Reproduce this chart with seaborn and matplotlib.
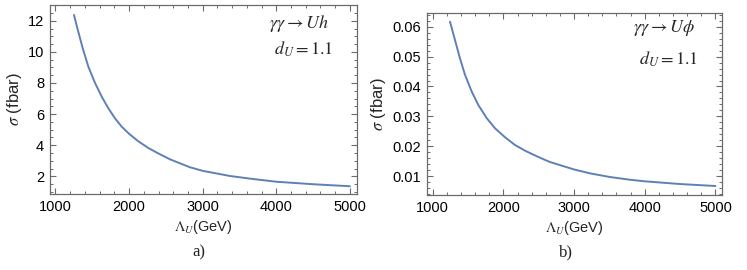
import pandas as pd
import seaborn as sns
import matplotlib.pyplot as plt
from matplotlib.ticker import MultipleLocator

# values
lam_a = [1251, 1310, 1370, 1446, 1537, 1628, 1718, 1808, 1899, 2003, 2125, 2261,
         2397, 2556, 2827, 3000, 3370, 3642, 4000, 4500, 5000]
sigma_uh = [12.37, 11.29, 10.23, 9.05, 8.0, 7.12, 6.37, 5.73, 5.19, 4.72, 4.25, 3.82,
            3.47, 3.09, 2.58, 2.35, 2.02, 1.85, 1.65, 1.49, 1.36]

lam_b = [1245, 1315, 1386, 1457, 1552, 1645, 1764, 1881, 2023, 2164, 2306, 2447,
         2579, 2659, 3000, 3225, 3508, 3791, 4000, 4500, 5000]
sigma_uphi = [0.0617, 0.0556, 0.0494, 0.0439, 0.0383, 0.0338, 0.0294, 0.0260, 0.0230,
              0.0204, 0.0185, 0.0169, 0.0155, 0.0147, 0.0122, 0.0109, 0.00967,
              0.00876, 0.00823, 0.00732, 0.00666]

sns.set_style("ticks")
plt.rcParams['font.family'] = ['Liberation Sans', 'DejaVu Sans']
plt.rcParams['mathtext.fontset'] = 'stix'

line_col = '#5E81B5'
frame_col = '#6b6b6b'

fig = plt.figure(figsize=(7.47, 2.70), dpi=100)
ax1 = fig.add_axes([0.0665, 0.2804, 0.4114, 0.701])
ax2 = fig.add_axes([0.5712, 0.2778, 0.3953, 0.675])

df_a = pd.DataFrame({'lam': lam_a, 'sigma': sigma_uh})
df_b = pd.DataFrame({'lam': lam_b, 'sigma': sigma_uphi})

sns.lineplot(data=df_a, x='lam', y='sigma', ax=ax1, color=line_col, lw=1.4)
sns.lineplot(data=df_b, x='lam', y='sigma', ax=ax2, color=line_col, lw=1.4)

ax1.set_xlim(921, 5096)
ax1.set_ylim(0.843, 13.01)
ax1.yaxis.set_major_locator(MultipleLocator(2))
ax1.yaxis.set_minor_locator(MultipleLocator(0.5))

ax2.set_xlim(915, 5092)
ax2.set_ylim(0.00365, 0.0647)
ax2.yaxis.set_major_locator(MultipleLocator(0.01))
ax2.yaxis.set_minor_locator(MultipleLocator(0.002))

for ax in (ax1, ax2):
    ax.xaxis.set_major_locator(MultipleLocator(1000))
    ax.xaxis.set_minor_locator(MultipleLocator(200))
    ax.tick_params(which='both', direction='in', top=True, right=True,
                   color=frame_col, labelsize=10.5, labelcolor='black', pad=4)
    ax.tick_params(which='major', length=4, width=0.8)
    ax.tick_params(which='minor', length=2.2, width=0.7)
    for s in ax.spines.values():
        s.set_color(frame_col)
        s.set_linewidth(0.9)
    ax.set_xlabel(r'$\Lambda_U$(GeV)', fontsize=10.5, labelpad=3)
    ax.set_ylabel(r'$\sigma$ (fbar)', fontsize=12, labelpad=3)

ax2.set_yticks(ax2.get_yticks())
ax2.set_yticklabels(['%.2f' % v for v in ax2.get_yticks()])
ax2.set_ylim(0.00365, 0.0647)

ax1.text(0.715, 0.877, r'$\gamma\gamma \rightarrow Uh$', transform=ax1.transAxes,
         fontsize=13, va='baseline')
ax1.text(0.73, 0.736, r'$d_U = 1.1$', transform=ax1.transAxes, fontsize=13,
         va='baseline')
ax2.text(0.70, 0.897, r'$\gamma\gamma \rightarrow U\phi$', transform=ax2.transAxes,
         fontsize=13, va='baseline')
ax2.text(0.72, 0.713, r'$d_U = 1.1$', transform=ax2.transAxes, fontsize=13,
         va='baseline')

fig.text(199 / 747, 1 - 252 / 270, 'a)', ha='center', va='center', fontsize=12,
         family='Liberation Serif')
fig.text(566 / 747, 1 - 252 / 270, 'b)', ha='center', va='center', fontsize=12,
         family='Liberation Serif')

fig.savefig('out.png', dpi=100)
